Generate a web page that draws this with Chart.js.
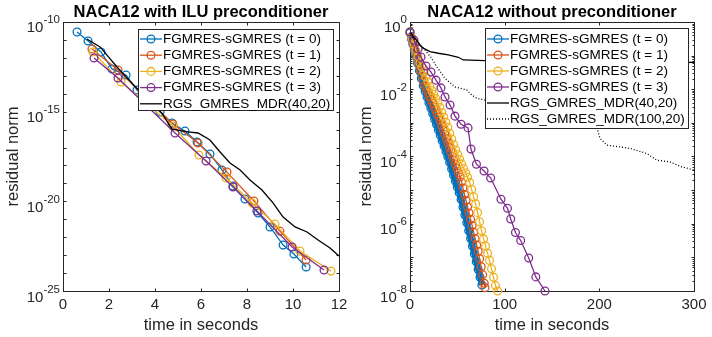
<!DOCTYPE html>
<html>
<head>
<meta charset="utf-8">
<script src="https://cdn.jsdelivr.net/npm/chart.js@4.4.1/dist/chart.umd.min.js"></script>
<style>
  html, body { margin: 0; padding: 0; background: #fff; }
  #wrap { position: relative; width: 712px; height: 337px; }
  canvas { position: absolute; top: 0; }
  #left { left: 0; }
  #right { left: 356px; }
</style>
</head>
<body>
<div id="wrap">
  <canvas id="left" width="356" height="337"></canvas>
  <canvas id="right" width="356" height="337"></canvas>
</div>
<script>
// residuals are kept as log10 exponents, times in seconds

// --- NACA12 with ILU preconditioner ---
const iluT0Time = [0.61, 1.09, 1.65, 2.13, 2.74, 3.22, 3.74, 4.22, 4.74, 5.30, 5.83, 6.39, 6.91, 7.39, 7.91, 8.48, 9.00, 9.57, 10.04, 10.57];
const iluT0Exp = [-10.56, -11.06, -11.67, -12.62, -12.96, -13.79, -14.41, -15.02, -15.63, -16.08, -16.69, -17.36, -18.25, -19.15, -19.87, -20.65, -21.43, -22.44, -22.94, -23.66];
const iluT1Time = [1.26, 2.39, 3.57, 4.78, 5.87, 7.13, 8.30, 9.43, 10.57];
const iluT1Exp = [-11.51, -12.68, -14.18, -15.69, -16.75, -18.37, -19.98, -21.66, -23.27];
const iluT2Time = [1.30, 2.52, 3.65, 4.78, 5.91, 7.09, 8.22, 9.22, 10.30, 11.65];
const iluT2Exp = [-11.67, -13.35, -14.57, -15.80, -17.42, -18.70, -20.09, -21.27, -22.77, -23.89];
const iluT3Time = [1.35, 2.39, 3.65, 4.87, 6.22, 7.39, 8.43, 9.96, 11.35];
const iluT3Exp = [-12.01, -13.12, -14.68, -16.19, -17.75, -19.20, -20.54, -22.55, -23.83];
const iluRgsTime = [1.04, 1.61, 2.35, 2.78, 3.57, 4.30, 4.74, 5.43, 5.87, 6.39, 6.83, 7.26, 7.70, 8.13, 8.65, 9.13, 9.57, 10.09, 10.61, 11.09, 11.61, 12.0];
const iluRgsExp = [-10.95, -11.39, -12.51, -13.12, -14.18, -15.08, -15.97, -16.13, -16.19, -16.58, -17.25, -17.86, -18.25, -18.81, -19.37, -20.09, -20.88, -21.43, -21.71, -22.16, -22.60, -23.05];

// --- NACA12 without preconditioner ---
const noT0Time = [0, 1.5, 3, 4.5, 6, 8, 10, 12, 14, 16, 18, 20, 22, 24, 26, 28, 30, 32, 34, 36, 38, 40, 42, 44, 46, 48, 50, 52, 54, 56, 58, 60, 62, 64, 66, 68, 70, 72, 74, 76];
const noT0Exp = [-0.33, -0.50, -0.66, -0.83, -1.00, -1.23, -1.45, -1.68, -1.90, -2.06, -2.23, -2.40, -2.56, -2.73, -2.89, -3.05, -3.21, -3.37, -3.53, -3.69, -3.85, -4.01, -4.18, -4.37, -4.56, -4.74, -4.91, -5.08, -5.28, -5.51, -5.74, -5.97, -6.21, -6.44, -6.67, -6.90, -7.13, -7.36, -7.59, -7.82];
const noT1Time = [0, 1.6, 3.2, 4.8, 6.4, 8.0, 9.6, 11.2, 12.8, 14.4, 16.0, 17.6, 19.2, 20.8, 22.4, 24.0, 25.6, 27.2, 28.8, 30.4, 32.0, 33.6, 35.2, 36.8, 38.4, 40.0, 41.6, 43.2, 44.8, 46.4, 48.0, 49.6, 51.2, 52.8, 54.4, 56.0, 57.6, 59.2, 60.8, 62.4, 64.0, 65.6, 67.2, 68.8, 70.4, 72.0, 73.6, 75.2, 76.8, 78.4, 79.2];
const noT1Exp = [-0.30, -0.46, -0.62, -0.78, -0.94, -1.10, -1.26, -1.42, -1.58, -1.74, -1.89, -1.99, -2.10, -2.20, -2.31, -2.41, -2.52, -2.62, -2.73, -2.83, -2.94, -3.08, -3.21, -3.34, -3.47, -3.60, -3.73, -3.86, -3.99, -4.11, -4.24, -4.36, -4.49, -4.61, -4.76, -4.94, -5.13, -5.31, -5.50, -5.68, -5.87, -6.05, -6.25, -6.44, -6.63, -6.82, -7.04, -7.28, -7.52, -7.77, -7.90];
const noT2Time = [0, 2.1, 4.2, 6.3, 8.4, 10.5, 12.6, 14.7, 16.8, 18.9, 21.0, 23.1, 25.2, 27.3, 29.4, 31.5, 33.6, 35.7, 37.8, 39.9, 42.0, 44.1, 46.2, 48.3, 50.4, 52.5, 54.6, 56.7, 58.8, 60.9, 63.0, 65.1, 67.2, 69.3, 71.4, 73.5, 75.6, 77.7, 79.8, 81.9, 84.0, 86.1, 88.2, 90.3, 92.6];
const noT2Exp = [-0.30, -0.48, -0.66, -0.85, -1.03, -1.21, -1.35, -1.49, -1.64, -1.78, -1.92, -2.04, -2.16, -2.28, -2.40, -2.54, -2.69, -2.83, -2.98, -3.13, -3.31, -3.48, -3.65, -3.80, -3.94, -4.08, -4.22, -4.36, -4.49, -4.62, -4.77, -4.98, -5.20, -5.41, -5.67, -5.94, -6.21, -6.45, -6.66, -6.88, -7.09, -7.34, -7.59, -7.84, -8.00];
const noT3Time = [0, 4.2, 8.5, 11.6, 16.9, 22.2, 27.5, 32.7, 37.0, 42.3, 47.5, 53.9, 61.3, 64.4, 70.2, 78.2, 85.2, 96.1, 103.0, 106.4, 111.4, 116.9, 125.4, 132.9, 142.6];
const noT3Exp = [-0.30, -0.54, -0.80, -1.04, -1.31, -1.49, -1.73, -1.96, -2.23, -2.47, -2.80, -3.04, -3.15, -3.78, -4.23, -4.43, -4.64, -5.27, -5.54, -5.86, -6.26, -6.50, -7.02, -7.58, -8.00];
const noRgs40Time = [0, 1.8, 3.5, 7.1, 10.6, 14.0, 21.1, 29.9, 40.5, 51.0, 56.3, 79.2, 150, 300];
const noRgs40Exp = [-0.33, -0.36, -0.44, -0.54, -0.68, -0.78, -0.88, -0.93, -0.98, -1.05, -1.13, -1.15, -1.17, -1.20];
const noRgs100Time = [0, 5.3, 15.8, 22.9, 28.2, 37.0, 47.5, 59.9, 65.2, 70.5, 79.2, 137, 190, 197.2, 200.7, 207.8, 232.4, 250.0, 260.6, 274.6, 287.0, 300];
const noRgs100Exp = [-0.39, -0.54, -0.83, -1.08, -1.33, -1.68, -1.93, -2.02, -2.17, -2.27, -2.32, -2.68, -2.98, -3.12, -3.46, -3.66, -3.76, -3.91, -4.11, -4.16, -4.31, -4.40];

// axis ticks
const leftXTicks = [0, 2, 4, 6, 8, 10, 12];
const leftYLabels = [-10, -15, -20, -25];
const rightXTicks = [0, 100, 200, 300];
const rightYLabels = [0, -2, -4, -6, -8];

const FONT = "'Liberation Sans', Arial, Helvetica, sans-serif";
const AXIS = '#262626';
const BLUE = '#0072BD', ORANGE = '#D95319', YELLOW = '#EDB120', PURPLE = '#7E2F8E';

Chart.defaults.font.family = FONT;
Chart.defaults.color = AXIS;

function toPoints(times, exps) {
    return times.map((t, i) => ({ x: t, y: Math.pow(10, exps[i]) }));
}

function markerSet(label, color, times, exps, order, width) {
    return {
        label: label,
        data: toPoints(times, exps),
        borderColor: color,
        borderWidth: width || 1.3,
        pointRadius: 3.9,
        pointBorderWidth: 1.3,
        pointBorderColor: color,
        pointBackgroundColor: 'rgba(0,0,0,0)',
        tension: 0,
        clip: false,
        order: order
    };
}

function plainSet(label, times, exps, dash, order) {
    return {
        label: label,
        data: toPoints(times, exps),
        borderColor: '#000',
        borderWidth: 1.3,
        borderDash: dash,
        pointRadius: 0,
        tension: 0,
        clip: false,
        order: order
    };
}

// box, inward ticks, superscript tick labels and the MATLAB-like legend
const matlabAxes = {
    id: 'matlabAxes',
    beforeDatasetsDraw(chart, args, opts) {
        const { ctx, chartArea: a, scales: { x, y } } = chart;
        const L = Math.round(a.left) + 0.5, R = Math.round(a.right) + 0.5;
        const T = Math.round(a.top) + 0.5, B = Math.round(a.bottom) + 0.5;
        ctx.save();
        ctx.strokeStyle = AXIS;
        ctx.lineWidth = 1;
        ctx.strokeRect(L, T, R - L, B - T);
        ctx.beginPath();
        opts.xTicks.forEach(v => {
            const px = Math.round(x.getPixelForValue(v)) + 0.5;
            ctx.moveTo(px, B); ctx.lineTo(px, B - 3);
            ctx.moveTo(px, T); ctx.lineTo(px, T + 3);
        });
        const lo = Math.round(Math.log10(y.min)), hi = Math.round(Math.log10(y.max));
        for (let e = lo; e <= hi; e++) {
            const mults = (opts.minor && e < hi) ? [1, 2, 3, 4, 5, 6, 7, 8, 9] : [1];
            mults.forEach(k => {
                const py = Math.round(y.getPixelForValue(k * Math.pow(10, e))) + 0.5;
                const len = k === 1 ? 3 : 2;
                ctx.moveTo(L, py); ctx.lineTo(L + len, py);
                ctx.moveTo(R, py); ctx.lineTo(R - len, py);
            });
        }
        ctx.stroke();
        ctx.restore();
    },
    afterDraw(chart, args, opts) {
        const { ctx, chartArea: a, scales: { y } } = chart;
        ctx.save();
        ctx.fillStyle = AXIS;
        ctx.textAlign = 'right';
        ctx.textBaseline = 'alphabetic';
        opts.yLabels.forEach(e => {
            const py = y.getPixelForValue(Math.pow(10, e));
            const expText = String(e);
            ctx.font = '11.5px ' + FONT;
            const ew = ctx.measureText(expText).width;
            const xr = a.left - 3;
            ctx.fillText(expText, xr, py + 1.5);
            ctx.font = '15px ' + FONT;
            ctx.fillText('10', xr - ew, py + 10.5);
        });

        const lg = opts.legend;
        ctx.fillStyle = '#fff';
        ctx.fillRect(lg.left, lg.top, lg.width, lg.height);
        ctx.strokeStyle = AXIS;
        ctx.lineWidth = 1;
        ctx.strokeRect(lg.left + 0.5, lg.top + 0.5, lg.width, lg.height);
        ctx.font = '13.5px ' + FONT;
        ctx.textAlign = 'left';
        ctx.textBaseline = 'middle';
        chart.data.datasets.forEach((ds, i) => {
            const cy = lg.top + lg.firstRow + i * lg.rowHeight;
            const x0 = lg.left + 2, x1 = lg.left + 24;
            ctx.strokeStyle = ds.borderColor;
            ctx.lineWidth = Math.min(ds.borderWidth, 1.3);
            ctx.setLineDash(ds.borderDash || []);
            ctx.beginPath();
            ctx.moveTo(x0, cy); ctx.lineTo(x1, cy);
            ctx.stroke();
            ctx.setLineDash([]);
            if (ds.pointRadius > 0) {
                ctx.lineWidth = 1.3;
                ctx.beginPath();
                ctx.arc((x0 + x1) / 2, cy, 3.9, 0, Math.PI * 2);
                ctx.stroke();
            }
            ctx.fillStyle = '#000';
            ctx.fillText(ds.label, x1 + 1, cy);
        });
        ctx.restore();
    }
};

function makeChart(canvasId, cfg) {
    return new Chart(document.getElementById(canvasId), {
        type: 'line',
        data: { datasets: cfg.datasets },
        options: {
            responsive: false,
            animation: false,
            events: [],
            layout: { padding: { left: 0, right: cfg.padRight, top: 0, bottom: 0 } },
            scales: {
                x: {
                    type: 'linear',
                    min: cfg.xTicks[0],
                    max: cfg.xTicks[cfg.xTicks.length - 1],
                    afterBuildTicks: s => { s.ticks = cfg.xTicks.map(v => ({ value: v })); },
                    ticks: { color: AXIS, font: { size: 15 }, padding: 5, maxRotation: 0, autoSkip: false },
                    grid: { display: false, drawTicks: false },
                    border: { display: false },
                    title: { display: true, text: 'time in seconds', color: AXIS, font: { size: 16.5, lineHeight: 1.2 }, padding: { top: 0, bottom: 2 } },
                    afterFit: s => { s.height = 46; }
                },
                y: {
                    type: 'logarithmic',
                    min: cfg.yMin,
                    max: cfg.yMax,
                    ticks: { display: false },
                    grid: { display: false, drawTicks: false },
                    border: { display: false },
                    title: { display: true, text: 'residual norm', color: AXIS, font: { size: 16.5, lineHeight: 1.2 }, padding: { top: cfg.yTitlePad, bottom: 0 } },
                    afterFit: s => { s.width = cfg.yWidth; }
                }
            },
            plugins: {
                legend: { display: false },
                tooltip: { enabled: false },
                title: {
                    display: true,
                    text: cfg.title,
                    color: '#000',
                    fullSize: false,
                    font: { size: 16.5, weight: 'bold', lineHeight: 1.15 },
                    padding: { top: 3, bottom: 0 }
                },
                matlabAxes: {
                    xTicks: cfg.xTicks,
                    yLabels: cfg.yLabels,
                    minor: cfg.minor,
                    legend: cfg.legend
                }
            }
        },
        plugins: [matlabAxes]
    });
}

makeChart('left', {
    title: 'NACA12 with ILU preconditioner',
    datasets: [
        markerSet('FGMRES-sGMRES (t = 0)', BLUE, iluT0Time, iluT0Exp, 5),
        markerSet('FGMRES-sGMRES (t = 1)', ORANGE, iluT1Time, iluT1Exp, 4),
        markerSet('FGMRES-sGMRES (t = 2)', YELLOW, iluT2Time, iluT2Exp, 3),
        markerSet('FGMRES-sGMRES (t = 3)', PURPLE, iluT3Time, iluT3Exp, 2),
        plainSet('RGS_GMRES_MDR(40,20)', iluRgsTime, iluRgsExp, [], 1)
    ],
    xTicks: leftXTicks,
    yLabels: leftYLabels,
    yMin: 1e-25,
    yMax: 1e-10,
    minor: false,
    yWidth: 63,
    yTitlePad: 4,
    padRight: 17,
    legend: { left: 138, top: 29, width: 195, height: 81, firstRow: 10, rowHeight: 16.2 }
});

makeChart('right', {
    title: 'NACA12 without preconditioner',
    datasets: [
        markerSet('FGMRES-sGMRES (t = 0)', BLUE, noT0Time, noT0Exp, 6, 6),
        markerSet('FGMRES-sGMRES (t = 1)', ORANGE, noT1Time, noT1Exp, 5),
        markerSet('FGMRES-sGMRES (t = 2)', YELLOW, noT2Time, noT2Exp, 4),
        markerSet('FGMRES-sGMRES (t = 3)', PURPLE, noT3Time, noT3Exp, 3),
        plainSet('RGS_GMRES_MDR(40,20)', noRgs40Time, noRgs40Exp, [], 2),
        plainSet('RGS_GMRES_MDR(100,20)', noRgs100Time, noRgs100Exp, [1, 2], 1)
    ],
    xTicks: rightXTicks,
    yLabels: rightYLabels,
    yMin: 1e-8,
    yMax: 1,
    minor: true,
    yWidth: 54,
    yTitlePad: 1,
    padRight: 18,
    legend: { left: 129, top: 28, width: 203, height: 100, firstRow: 11, rowHeight: 16 }
});
</script>
</body>
</html>
